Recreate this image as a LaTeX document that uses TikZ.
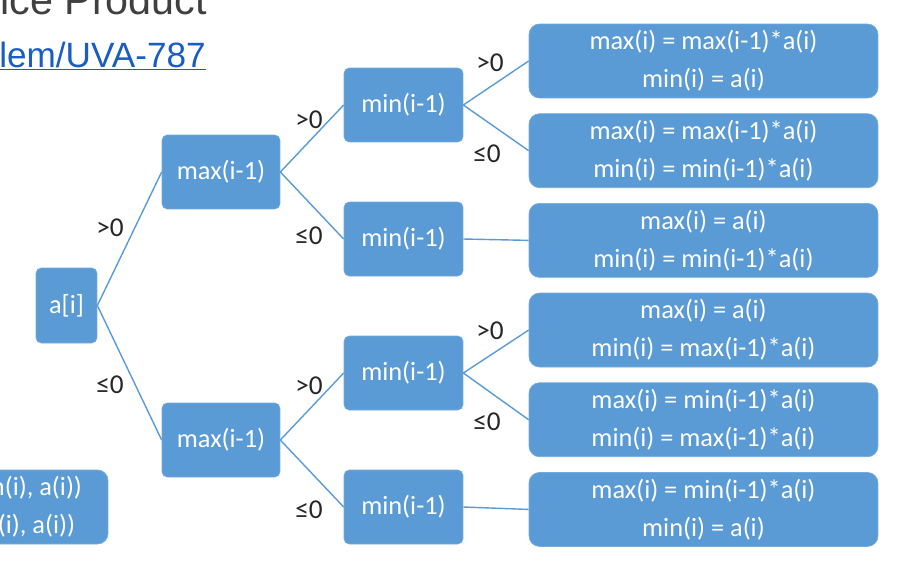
\documentclass[tikz,border=0pt]{standalone}
\usepackage{fontspec}
\setmainfont{Carlito}
\newfontfamily\headfont{Liberation Sans}
\usetikzlibrary{positioning}
\definecolor{BoxBlue}{RGB}{91,155,213}
\definecolor{LinkBlue}{RGB}{24,92,196}
\definecolor{HeadGray}{RGB}{64,64,64}

\begin{document}
\begin{tikzpicture}[x=0.02cm,y=-0.02cm,
  box/.style={rectangle,fill=BoxBlue,draw=BoxBlue!85!white,rounded corners=3pt,minimum width=2.36cm,minimum height=1.48cm,inner sep=2pt,text=white,font=\fontsize{15}{21.5}\selectfont,align=center},
  res/.style={box,minimum width=6.98cm,rounded corners=6pt},
  link/.style={draw=BoxBlue,line width=0.8pt},
  cond/.style={font=\fontsize{15.5}{17}\selectfont,text=black!85,inner sep=0pt}
]
  \useasboundingbox (0,0) rectangle (920,569);
  \clip (0,0) rectangle (920,569);
  % heading, cut at the top and left
  \node[anchor=base west,inner sep=0pt,font=\headfont\fontsize{23.5}{28}\selectfont,text=HeadGray] (ttl) at (0,14) {ice Product};
  \node[anchor=base west,inner sep=0pt,font=\headfont\fontsize{20}{24}\selectfont,text=LinkBlue] (url) at (-1,67) {\underline{lem/UVA-787}};
  \node[box,minimum width=2.86cm,rounded corners=6pt] (keep) at (36.5,507) {n(i), a(i))\\(i), a(i))};
  % tree
  \node[box,minimum width=1.22cm,minimum height=1.5cm] (ai) at (66.5,305.5) {a[i]};
  \node[box] (mxA) at (221,172) {max(i-1)};
  \node[box] (mxB) at (221,440) {max(i-1)};
  \node[box,minimum width=2.38cm] (mn1) at (403.5,105) {min(i-1)};
  \node[box,minimum width=2.38cm] (mn2) at (403.5,239) {min(i-1)};
  \node[box,minimum width=2.38cm] (mn3) at (403.5,373) {min(i-1)};
  \node[box,minimum width=2.38cm] (mn4) at (403.5,507) {min(i-1)};
  % results
  \node[res] (r1) at (703.5,61) {max(i) = max(i-1)*a(i)\\min(i) = a(i)};
  \node[res,below=0.3cm of r1] (r2) {max(i) = max(i-1)*a(i)\\min(i) = min(i-1)*a(i)};
  \node[res,below=0.3cm of r2] (r3) {max(i) = a(i)\\min(i) = min(i-1)*a(i)};
  \node[res,below=0.3cm of r3] (r4) {max(i) = a(i)\\min(i) = max(i-1)*a(i)};
  \node[res,below=0.3cm of r4] (r5) {max(i) = min(i-1)*a(i)\\min(i) = max(i-1)*a(i)};
  \node[res,below=0.3cm of r5] (r6) {max(i) = min(i-1)*a(i)\\min(i) = a(i)};
  \draw[link] (ai.east) -- (mxA.west);
  \draw[link] (ai.east) -- (mxB.west);
  \draw[link] (mxA.east) -- (mn1.west);
  \draw[link] (mxA.east) -- (mn2.west);
  \draw[link] (mxB.east) -- (mn3.west);
  \draw[link] (mxB.east) -- (mn4.west);
  \draw[link] (mn1.east) -- (r1.west);
  \draw[link] (mn1.east) -- (r2.west);
  \draw[link] (mn2.east) -- (r3.west);
  \draw[link] (mn3.east) -- (r4.west);
  \draw[link] (mn3.east) -- (r5.west);
  \draw[link] (mn4.east) -- (r6.west);
  % conditions
  \node[cond] (c1) at (110,228) {>0};
  \node[cond] (c2) at (110,385) {≤0};
  \node[cond] (c3) at (309,120) {>0};
  \node[cond] (c4) at (309,236) {≤0};
  \node[cond] (c5) at (309,386) {>0};
  \node[cond] (c6) at (309,510) {≤0};
  \node[cond] (c7) at (490,63) {>0};
  \node[cond] (c8) at (487,154) {≤0};
  \node[cond] (c9) at (490,331) {>0};
  \node[cond] (c10) at (487,422) {≤0};
\end{tikzpicture}
\end{document}
